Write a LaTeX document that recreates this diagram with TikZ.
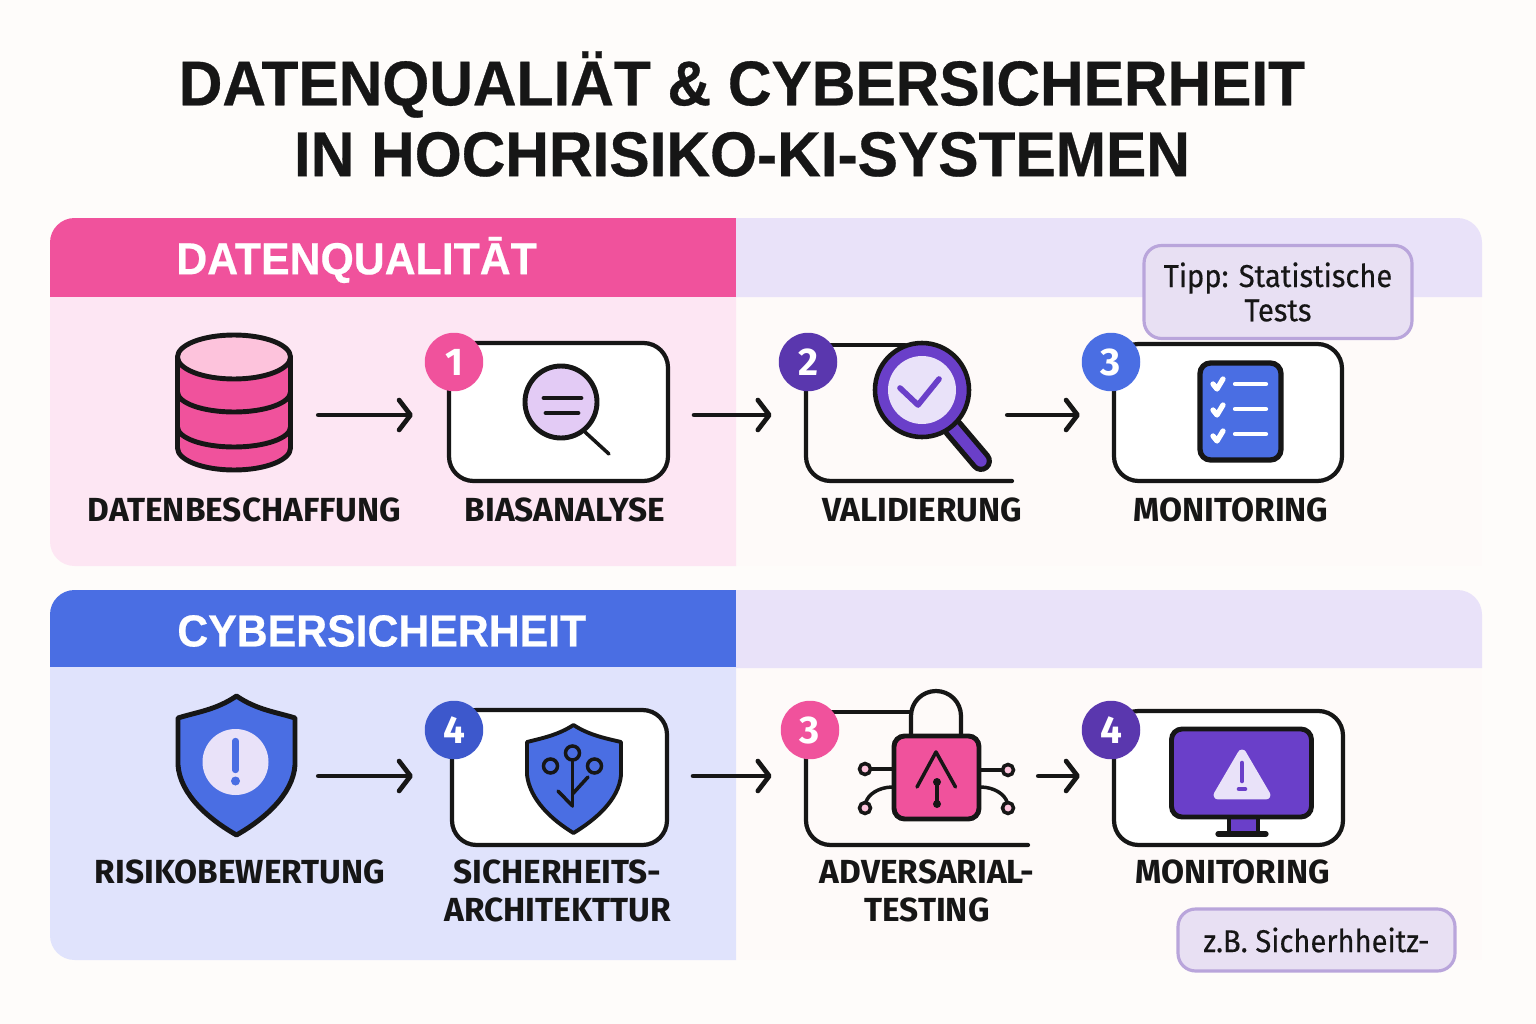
\documentclass[tikz,border=0pt]{standalone}
\usepackage{fontspec}
\setmainfont{Fira Sans}
\newfontfamily\headfont{Liberation Sans}[BoldFeatures={FakeBold=0.5,FakeStretch=0.955}]
\newfontfamily\notefont{Fira Sans}[FakeBold=0.35,FakeStretch=0.92]
\usetikzlibrary{arrows.meta}
\definecolor{pagebg}{HTML}{FEFCFA}
\definecolor{ink}{HTML}{161616}
\definecolor{pinkmain}{HTML}{F0529C}
\definecolor{pinkpale}{HTML}{FDE6F3}
\definecolor{pinklight}{HTML}{FDC3DC}
\definecolor{bluemain}{HTML}{4A6EE3}
\definecolor{bluedeep}{HTML}{3D58CC}
\definecolor{bluepale}{HTML}{E0E3FC}
\definecolor{lilacpale}{HTML}{E9E2F9}
\definecolor{lilacnote}{HTML}{E8E0F3}
\definecolor{lilacedge}{HTML}{B9A5DB}
\definecolor{lilacglass}{HTML}{E3CBF5}
\definecolor{purplemain}{HTML}{6A3FC9}
\definecolor{purpledeep}{HTML}{5A37AE}
\definecolor{rightbg}{HTML}{FEFAF9}
\begin{document}
\begin{tikzpicture}
  [
  x=0.02cm,y=-0.02cm,
  outline/.style={draw=ink,line width=2.8pt,line join=round,line cap=round},
  thin line/.style={draw=ink,line width=2pt,line cap=round},
  card/.style 2 args={rectangle,draw=ink,fill=white,line width=2.4pt,rounded corners=14pt,inner sep=0pt,minimum width=#1*0.02cm,minimum height=#2*0.02cm},
  iconbox/.style 2 args={rectangle,inner sep=0pt,minimum width=#1*0.02cm,minimum height=#2*0.02cm},
  cardline/.style={draw=ink,line width=2.4pt,line cap=round,rounded corners=14pt},
  badge/.style={circle,fill=#1,text=white,inner sep=0pt,minimum size=1.17cm,font=\fontsize{22}{22}\selectfont\bfseries},
  flow/.style 2 args={draw=ink,line width=2.7pt,line cap=round,-{Straight Barb[length=6.5pt,width=17pt,line width=2.7pt,round]},shorten <=#1*0.02cm,shorten >=#2*0.02cm},
  steptext/.style={inner sep=0pt,align=center,text=ink,font=\fontsize{19}{21.5}\selectfont\bfseries},
  headtext/.style={inner sep=0pt,anchor=west,text=white,font=\fontsize{25.5}{26}\selectfont\headfont\bfseries},
  note/.style={draw=lilacedge,fill=lilacnote,line width=1.8pt,rounded corners=10pt,inner sep=0pt,align=center,text=ink,font=\fontsize{18}{19.5}\selectfont\notefont}
  ]
  \fill [pagebg] (0,0) rectangle (1536,1024);

  % title
  \node (title) at (742,114) [inner sep=0pt,align=center,text=ink,font=\fontsize{36}{40.3}\selectfont\headfont\bfseries]
    {DATENQUALIÄT \& CYBERSICHERHEIT\\IN HOCHRISIKO-KI-SYSTEMEN};

  % upper panel
  \fill [rightbg] (736,297) rectangle (1482,566);
  \fill [pinkmain] (50,297) [rounded corners=14pt] -- (50,218) [sharp corners] -- (736,218) -- (736,297) -- cycle;
  \fill [lilacpale] (736,218) [rounded corners=14pt] -- (1482,218) [sharp corners] -- (1482,297) -- (736,297) -- cycle;
  \fill [pinkpale] (50,297) [rounded corners=14pt] -- (50,566) [sharp corners] -- (736,566) -- (736,297) -- cycle;
  \node (headone) at (176,260) [headtext] {DATENQUALITĀT};

  % lower panel
  \fill [rightbg] (736,668) rectangle (1482,960);
  \fill [bluemain] (50,667) [rounded corners=14pt] -- (50,590) [sharp corners] -- (736,590) -- (736,667) -- cycle;
  \fill [lilacpale] (736,590) [rounded corners=14pt] -- (1482,590) [sharp corners] -- (1482,668) -- (736,668) -- cycle;
  \fill [bluepale] (50,667) [rounded corners=14pt] -- (50,960) [sharp corners] -- (736,960) -- (736,667) -- cycle;
  \node (headtwo) at (177,631) [headtext] {CYBERSICHERHEIT};

  \coordinate (rowone) at (0,415);
  \coordinate (rowtwo) at (0,776);

  % upper row: boxes
  \node (dbicon) at (234,402) [iconbox={116}{136}] {};
  \node (cardbias) at (558.5,412) [card={219}{138}] {};
  \node (cardvalid) at (898,412) [iconbox={184}{138}] {};
  \node (cardmonone) at (1228,412.5) [card={228}{137}] {};

  % database
  \filldraw [outline,fill=pinkmain] (177.5,357) -- (177.5,448) arc [start angle=180,end angle=0,x radius=56.5,y radius=22] -- (290.5,357) -- cycle;
  \draw [outline] (177.5,392) arc [start angle=180,end angle=0,x radius=56.5,y radius=20];
  \draw [outline] (177.5,427) arc [start angle=180,end angle=0,x radius=56.5,y radius=20];
  \filldraw [outline,fill=pinklight] (234,357) ellipse [x radius=56.5,y radius=22];

  % bias glass
  \filldraw [outline,fill=lilacglass] (561,402) circle [radius=36];
  \draw [thin line] (585,432) to (609,454);
  \draw [outline] (544,398) to (581,398);
  \draw [outline] (546,413) to (578,413);

  % validation glass
  \draw [cardline] (830,345) -- (905,345);
  \draw [cardline] (806,385) [rounded corners=14pt] -- (806,481) -- (1012,481);
  \draw [draw=ink,line width=12.5pt,line cap=round] (953,428) to (981,461);
  \draw [draw=purplemain,line width=6.5pt,line cap=round] (953,428) to (981,461);
  \filldraw [draw=ink,line width=2.6pt,fill=purplemain] (922,390) circle [radius=47];
  \fill [lilacpale] (922,390) circle [radius=34];
  \draw [draw=purplemain,line width=3.2pt,line cap=round,line join=round] (900,388) -- (918,405) -- (939,379);

  % check list
  \node (sheet) at (1240.5,411.5) [rectangle,draw=ink,fill=bluemain,line width=3pt,rounded corners=6pt,inner sep=0pt,minimum width=1.62cm,minimum height=1.94cm] {};
  \draw [draw=white,line width=2.4pt,line cap=round] (1235,384) to (1266,384);
  \draw [draw=white,line width=2.4pt,line cap=round] (1235,409) to (1266,409);
  \draw [draw=white,line width=2.4pt,line cap=round] (1235,434) to (1266,434);
  \draw [draw=white,line width=3pt,line cap=round,line join=round] (1213,384) -- (1217,389) -- (1223,379);
  \draw [draw=white,line width=3pt,line cap=round,line join=round] (1213,410) -- (1217,415) -- (1223,405);
  \draw [draw=white,line width=3pt,line cap=round,line join=round] (1213,436) -- (1217,441) -- (1223,431);

  \node (tipp) at (1278,292) [note,minimum width=5.36cm,minimum height=1.86cm] {Tipp: Statistische\\Tests};

  \node (numone) at (454,362) [badge=pinkmain] {1};
  \node (numtwo) at (808,362) [badge=purpledeep] {2};
  \node (numthree) at (1111,362) [badge=bluemain] {3};

  \draw [flow={26}{34}] (dbicon.east |- rowone) to (cardbias.west |- rowone);
  \draw [flow={24}{34}] (cardbias.east |- rowone) to (cardvalid.west |- rowone);
  \draw [flow={17}{32}] (cardvalid.east |- rowone) to (cardmonone.west |- rowone);

  \node (lbsource) at (244.5,510) [steptext] {DATENBESCHAFFUNG};
  \node (lbbias) at (565,510) [steptext] {BIASANALYSE};
  \node (lbvalid) at (922,510) [steptext] {VALIDIERUNG};
  \node (lbmonone) at (1231,510) [steptext] {MONITORING};

  % lower row: boxes
  \node (shieldicon) at (236.5,766) [iconbox={119}{140}] {};
  \node (cardarch) at (559.5,777.5) [card={215}{135}] {};
  \node (cardadv) at (917,778) [iconbox={222}{134}] {};
  \node (cardmontwo) at (1228.5,778) [card={229}{134}] {};

  % risk shield
  \filldraw [outline,fill=bluemain] (236.5,696) .. controls (216,710) and (197,712) .. (178,718) -- (178,765) .. controls (180,795) and (210,820) .. (236.5,835) .. controls (263,820) and (293,795) .. (295,765) -- (295,718) .. controls (276,712) and (257,710) .. (236.5,696) -- cycle;
  \fill [lilacpale] (235.5,762) circle [radius=33];
  \draw [draw=bluemain,line width=3.6pt,line cap=round] (235.5,741) to (235.5,770);
  \fill [bluemain] (235.5,781) circle [radius=4.5];

  % architecture shield
  \filldraw [draw=ink,line width=2.2pt,line join=round,fill=bluemain] (573.5,725) .. controls (558,735) and (543,738) .. (527,742) -- (527,775) .. controls (530,800) and (552,820) .. (573.5,833) .. controls (595,820) and (619,800) .. (621,775) -- (621,742) .. controls (604,738) and (589,735) .. (573.5,725) -- cycle;
  \draw [thin line] (572.5,760) to (572.5,806);
  \draw [thin line,line join=round] (558,791) -- (572.5,806);
  \draw [thin line] (572.5,794) to (588,777);
  \filldraw [draw=ink,line width=2pt,fill=bluemain] (572.5,753) circle [radius=7];
  \filldraw [draw=ink,line width=2pt,fill=bluemain] (550.5,766) circle [radius=7];
  \filldraw [draw=ink,line width=2pt,fill=bluemain] (594.5,766) circle [radius=7];

  % lock
  \draw [cardline] (830,712) -- (911,712);
  \draw [cardline] (806,750) [rounded corners=14pt] -- (806,845) -- (1028,845);
  \draw [draw=ink,line width=2.4pt] (911,738) -- (911,716) arc [start angle=180,end angle=360,radius=25] -- (961,738);
  \node (lock) at (936.5,777.5) [rectangle,draw=ink,fill=pinkmain,line width=2.8pt,rounded corners=6pt,inner sep=0pt,minimum width=1.7cm,minimum height=1.66cm] {};
  \draw [thin line,line join=round] (917,787) -- (936,752) -- (955.5,787);
  \draw [thin line] (937,782) to (937,804);
  \fill [ink] (937,782) circle [radius=4];
  \fill [ink] (937,804) circle [radius=4];
  \draw [thin line] (871,769) to (893,769);
  \draw [thin line] (980,770) to (1002,770);
  \draw [thin line] (893,787) .. controls (878,787) and (868,795) .. (866,802);
  \draw [thin line] (980,787) .. controls (995,787) and (1005,795) .. (1007,802);
  \filldraw [draw=ink,line width=2pt,fill=pinklight] (865,769) circle [radius=5.5];
  \filldraw [draw=ink,line width=2pt,fill=pinklight] (865,808) circle [radius=5.5];
  \filldraw [draw=ink,line width=2pt,fill=pinklight] (1008,770) circle [radius=5.5];
  \filldraw [draw=ink,line width=2pt,fill=pinklight] (1008,808) circle [radius=5.5];

  % monitor
  \filldraw [draw=ink,line width=2.4pt,fill=purplemain] (1229,816) rectangle (1258,835);
  \draw [draw=ink,line width=3pt,line cap=round] (1218,834) to (1266,834);
  \node (screen) at (1241.5,773) [rectangle,draw=ink,fill=purplemain,line width=2.8pt,rounded corners=6pt,inner sep=0pt,minimum width=2.8cm,minimum height=1.76cm] {};
  \filldraw [draw=lilacpale,fill=lilacpale,line width=5pt,line join=round] (1242,754) -- (1218,795) -- (1266,795) -- cycle;
  \draw [draw=purplemain,line width=2.6pt,line cap=round] (1242,763) to (1242,781);
  \draw [draw=purplemain,line width=2.6pt,line cap=round] (1239,789) to (1245,789);

  \node (numfour) at (454,730) [badge=bluedeep] {4};
  \node (numadv) at (810,730) [badge=pinkmain] {3};
  \node (nummon) at (1111,730) [badge=purpledeep] {4};

  \draw [flow={22}{37}] (shieldicon.east |- rowtwo) to (cardarch.west |- rowtwo);
  \draw [flow={24}{34}] (cardarch.east |- rowtwo) to (cardadv.west |- rowtwo);
  \draw [flow={10}{32}] (cardadv.east |- rowtwo) to (cardmontwo.west |- rowtwo);

  \node (lbrisk) at (240,872) [steptext] {RISIKOBEWERTUNG};
  \node (lbarch) at (557.5,891) [steptext] {SICHERHEITS-\\ARCHITEKTTUR};
  \node (lbadv) at (927,891) [steptext] {ADVERSARIAL-\\TESTING};
  \node (lbmontwo) at (1232.5,872) [steptext] {MONITORING};

  \node (example) at (1316.5,940) [note,minimum width=5.54cm,minimum height=1.24cm] {z.B. Sicherhheitz-};
\end{tikzpicture}
\end{document}
